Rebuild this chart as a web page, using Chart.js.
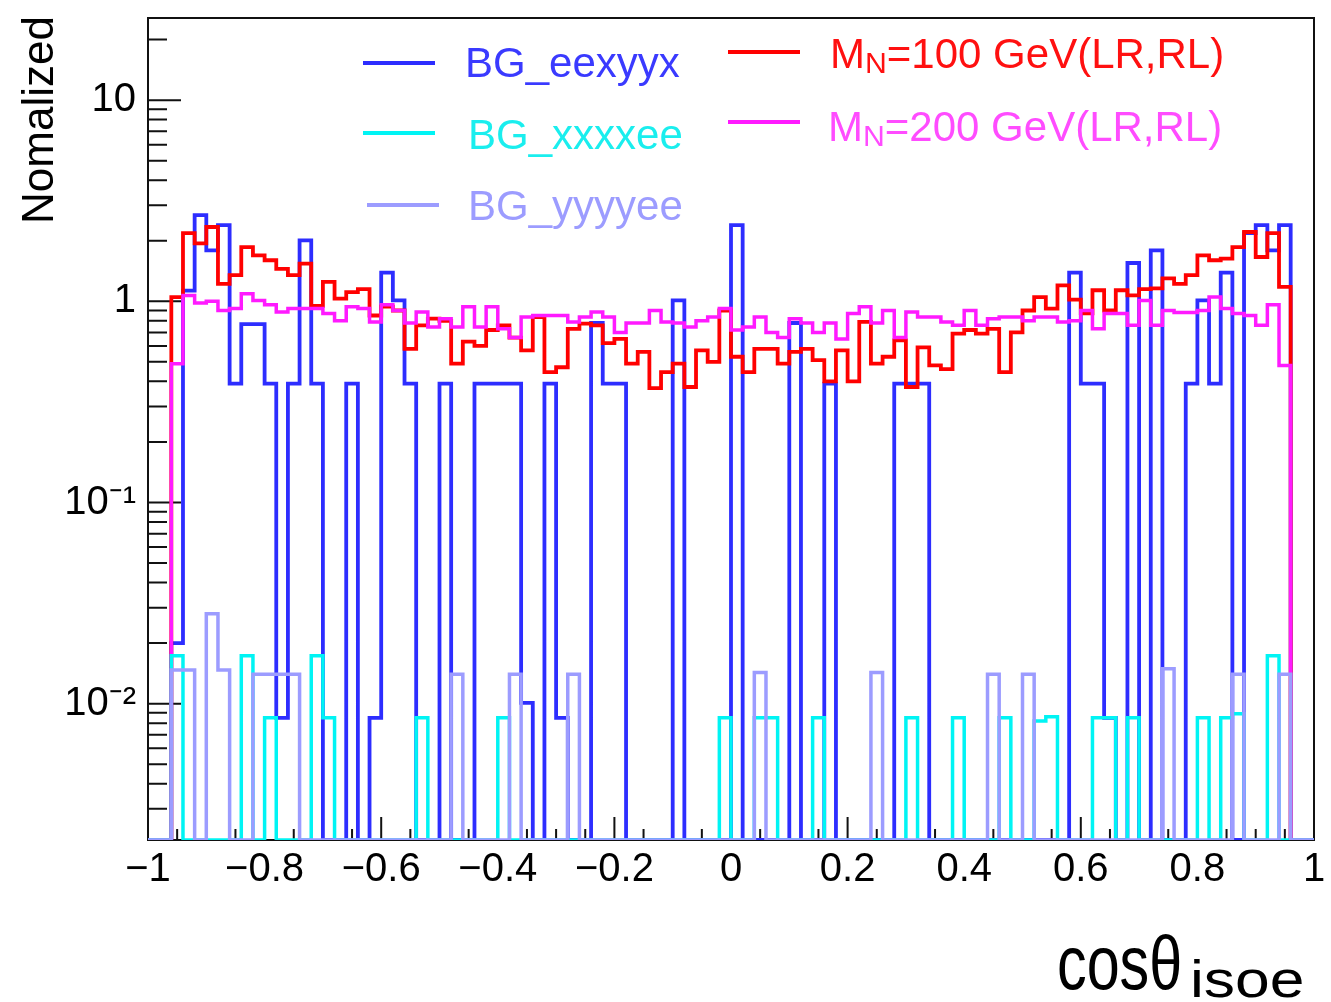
<!DOCTYPE html>
<html>
<head>
<meta charset="utf-8">
<script src="https://cdn.jsdelivr.net/npm/chart.js@4.4.0/dist/chart.umd.min.js"></script>
<style>
  body { margin: 0; background: #fff; }
  #wrap { position: relative; width: 1331px; height: 1002px; font-family: "Liberation Sans", Arial, sans-serif; }
  #c { position: absolute; left: 0; top: 0; }
  .legline { position: absolute; height: 4px; width: 72px; }
  .legtext { position: absolute; font-size: 42px; line-height: 42px; white-space: nowrap; }
  .legtext sub { font-size: 0.72em; vertical-align: -0.15em; line-height: 0; }
  #ytitle { position: absolute; left: -112px; top: 98px; width: 300px; text-align: center;
            font-size: 44px; line-height: 44px; transform: rotate(-90deg); color: #000; }
  #xt1 { position: absolute; left: 1057px; top: 925px; font-size: 76px; line-height: 76px;
         transform: scaleX(0.78); transform-origin: left top; color: #000; }
  #xt2 { position: absolute; left: 1190px; top: 953px; font-size: 52px; line-height: 52px;
         transform: scaleX(1.2); transform-origin: left top; color: #000; }
</style>
</head>
<body>
<div id="wrap">
  <canvas id="c" width="1331" height="1002"></canvas>
  <div id="legend"></div>
  <div id="ytitle">Nomalized</div>
  <div id="xt1">cosθ</div><div id="xt2">isoe</div>
</div>
<script>
// binning of cos(theta_isoe): 100 bins from -1 to 1
const binLow = -1;
const binWidth = 0.02;

// normalized bin contents (0 = empty bin)
const eexyyx = [
  0, 0, 0.020, 1.13, 2.68, 1.79, 2.39, 0.39, 0.77, 0.77,
  0.39, 0.0085, 0.39, 2.01, 0.39, 0, 0, 0.39, 0, 0.0085,
  1.39, 1.01, 0.39, 0, 0, 0.39, 0, 0, 0.39, 0.39,
  0.39, 0.39, 0.0101, 0, 0.39, 0.0085, 0, 0, 0.78, 0.39,
  0.39, 0, 0, 0, 0, 1.01, 0, 0, 0, 0,
  2.39, 0, 0, 0, 0, 0.78, 0, 0, 0.39, 0,
  0, 0, 0, 0, 0.39, 0.39, 0.39, 0, 0, 0,
  0, 0, 0, 0, 0, 0, 0, 0, 0, 1.39,
  0.39, 0.39, 0.0085, 0, 1.55, 0, 1.79, 0, 0, 0.39,
  1.01, 0.39, 1.39, 0, 2.18, 2.39, 1.79, 2.39, 0, 0
];
const xxxxee = [
  0, 0, 0.0173, 0, 0, 0, 0, 0, 0.0173, 0,
  0.0085, 0, 0, 0, 0.0173, 0.0085, 0, 0, 0, 0,
  0, 0, 0, 0.0085, 0, 0, 0, 0, 0, 0,
  0.0085, 0, 0, 0, 0, 0, 0, 0, 0, 0,
  0, 0, 0, 0, 0, 0, 0, 0, 0, 0.0085,
  0, 0, 0.0085, 0.0085, 0, 0, 0, 0.0085, 0, 0,
  0, 0, 0, 0, 0, 0.0085, 0, 0, 0, 0.0085,
  0, 0, 0, 0.0085, 0, 0, 0.0082, 0.0086, 0, 0,
  0, 0.0085, 0.0085, 0, 0.0085, 0, 0, 0, 0, 0,
  0.0085, 0, 0.0085, 0.0089, 0, 0, 0.0173, 0, 0, 0
];
const yyyyee = [
  0, 0, 0.0147, 0.0147, 0, 0.028, 0.0147, 0, 0, 0.014,
  0.014, 0.014, 0.014, 0, 0, 0, 0, 0, 0, 0,
  0, 0, 0, 0, 0, 0, 0.014, 0, 0, 0,
  0, 0.014, 0, 0, 0, 0, 0.014, 0, 0, 0,
  0, 0, 0, 0, 0, 0, 0, 0, 0, 0,
  0, 0, 0.0143, 0, 0, 0, 0, 0, 0, 0,
  0, 0, 0.0143, 0, 0, 0, 0, 0, 0, 0,
  0, 0, 0.014, 0, 0, 0.014, 0, 0, 0, 0,
  0, 0, 0, 0, 0, 0, 0, 0.0149, 0, 0,
  0, 0, 0, 0.014, 0, 0, 0, 0.014, 0, 0
];
const mn100 = [
  0, 0, 1.05, 2.18, 1.94, 2.34, 1.22, 1.35, 1.86, 1.69,
  1.60, 1.45, 1.35, 1.54, 0.95, 1.25, 1.03, 1.11, 1.15, 0.85,
  0.94, 0.90, 0.58, 0.76, 0.82, 0.80, 0.49, 0.63, 0.60, 0.72,
  0.76, 0.66, 0.57, 0.835, 0.445, 0.47, 0.73, 0.775, 0.76, 0.62,
  0.65, 0.49, 0.56, 0.37, 0.445, 0.49, 0.375, 0.57, 0.50, 0.90,
  0.53, 0.445, 0.58, 0.58, 0.49, 0.56, 0.58, 0.51, 0.40, 0.57,
  0.40, 0.79, 0.49, 0.53, 0.64, 0.375, 0.59, 0.48, 0.46, 0.69,
  0.72, 0.69, 0.73, 0.445, 0.70, 0.90, 1.05, 0.92, 1.20, 1.02,
  0.87, 1.135, 0.90, 1.135, 1.07, 1.15, 1.16, 1.30, 1.22, 1.35,
  1.69, 1.60, 1.63, 1.86, 2.21, 1.66, 2.18, 1.18, 0, 0
];
const mn200 = [
  0, 0, 0.49, 1.07, 0.98, 1.0, 0.90, 0.92, 1.09, 1.01,
  0.96, 0.885, 0.92, 0.92, 0.92, 0.87, 0.80, 0.94, 0.92, 0.79,
  0.96, 0.90, 0.78, 0.885, 0.745, 0.82, 0.745, 0.94, 0.745, 0.94,
  0.73, 0.66, 0.835, 0.85, 0.85, 0.85, 0.79, 0.835, 0.885, 0.835,
  0.70, 0.78, 0.78, 0.90, 0.79, 0.78, 0.745, 0.80, 0.835, 0.92,
  0.72, 0.745, 0.835, 0.70, 0.66, 0.82, 0.78, 0.70, 0.78, 0.65,
  0.87, 0.94, 0.78, 0.90, 0.66, 0.885, 0.835, 0.835, 0.79, 0.76,
  0.90, 0.76, 0.82, 0.835, 0.835, 0.80, 0.835, 0.835, 0.79, 0.80,
  0.90, 0.73, 0.87, 0.87, 0.76, 1.01, 0.76, 0.90, 0.88, 0.88,
  0.90, 1.05, 0.92, 0.87, 0.85, 0.76, 0.96, 0.48, 0, 0
];

const yMin = 0.0021;
const yMax = 25.6;
const yTickVals = [0.01, 0.1, 1, 10];
const yTickText = ['10\u207B\u00B2', '10\u207B\u00B9', '1', '10'];
const xTickVals = [-1, -0.8, -0.6, -0.4, -0.2, 0, 0.2, 0.4, 0.6, 0.8, 1];

// name, data, colour, legend html, draw order (lower = on top)
const series = [
  { name: 'BG_eexyyx', vals: eexyyx, color: '#2d2dff', text: '#3a3aff', html: 'BG_eexyyx', order: 5, width: 3.8 },
  { name: 'BG_xxxxee', vals: xxxxee, color: '#00f4f4', text: '#1aeeee', html: 'BG_xxxxee', order: 2, width: 3.5 },
  { name: 'BG_yyyyee', vals: yyyyee, color: '#9c9cff', text: '#9c9cff', html: 'BG_yyyyee', order: 1, width: 3.5 },
  { name: 'M_N=100 GeV(LR,RL)', vals: mn100, color: '#ff0000', text: '#ff1010', html: 'M<sub>N</sub>=100 GeV(LR,RL)', order: 4, width: 3.8 },
  { name: 'M_N=200 GeV(LR,RL)', vals: mn200, color: '#ff1aff', text: '#ff4cff', html: 'M<sub>N</sub>=200 GeV(LR,RL)', order: 3, width: 3.5 }
];

// legend layout (two columns like the ROOT TLegend)
const legendSlots = [
  { lineX: 363, lineY: 61, textX: 465, textTop: 42 },
  { lineX: 363, lineY: 131, textX: 468, textTop: 114 },
  { lineX: 367, lineY: 203, textX: 468, textTop: 185 },
  { lineX: 728, lineY: 50, textX: 830, textTop: 33 },
  { lineX: 728, lineY: 120, textX: 828, textTop: 106 }
];

function histPoints(vals){
  // lower bin edges + closing point; empty bins sit on the frame bottom like ROOT's log view
  const pts = vals.map((v,i)=>({ x: binLow + i*binWidth, y: v > 0 ? v : yMin }));
  const last = vals[vals.length-1];
  pts.push({ x: binLow + vals.length*binWidth, y: last > 0 ? last : yMin });
  return pts;
}

const frameTicks = {
  id: 'frameTicks',
  beforeDatasetsDraw(chart){
    const { ctx, chartArea: a, scales: { x, y } } = chart;
    ctx.save();
    ctx.strokeStyle = '#111';
    ctx.lineWidth = 2;
    ctx.beginPath();
    for(let i=0;i<=40;i++){
      const px = x.getPixelForValue(-1 + i*0.05);
      const len = i%4===0 ? 23 : 11;
      ctx.moveTo(px, a.bottom); ctx.lineTo(px, a.bottom - len);
    }
    for(let d=-3; d<=1; d++){
      for(let m=1; m<=9; m++){
        const v = m*Math.pow(10,d);
        if(v < yMin || v > yMax) continue;
        const py = y.getPixelForValue(v);
        const len = m===1 ? 33 : 19;
        ctx.moveTo(a.left, py); ctx.lineTo(a.left + len, py);
      }
    }
    ctx.stroke();
    ctx.strokeRect(a.left, a.top, a.right - a.left, a.bottom - a.top);
    ctx.restore();
  }
};

const ctx = document.getElementById('c').getContext('2d');
const chart = new Chart(ctx, {
  type: 'line',
  data: {
    datasets: series.map(s=>({
      label: s.name,
      data: histPoints(s.vals),
      borderColor: s.color,
      backgroundColor: s.color,
      borderWidth: s.width,
      pointRadius: 0,
      stepped: 'before',
      fill: false,
      tension: 0,
      order: s.order
    }))
  },
  options: {
    responsive: false,
    animation: false,
    layout: { padding: { left: 0, right: 17, top: 18, bottom: 0 } },
    scales: {
      x: {
        type: 'linear', min: -1, max: 1,
        afterBuildTicks: sc => { sc.ticks = xTickVals.map(v=>({ value: v })); },
        afterFit: sc => { sc.height = 162; sc.paddingLeft = 0; sc.paddingRight = 0; },
        ticks: {
          autoSkip: false, maxRotation: 0, padding: 6, color: '#000',
          font: { family: 'Liberation Sans', size: 40 },
          callback: v => v < 0 ? '\u2212' + Math.abs(v) : String(v)
        },
        grid: { display: false, drawTicks: false },
        border: { display: false }
      },
      y: {
        type: 'logarithmic', min: yMin, max: yMax,
        afterBuildTicks: sc => { sc.ticks = yTickVals.map(v=>({ value: v })); },
        afterFit: sc => { sc.width = 148; sc.paddingTop = 0; sc.paddingBottom = 0; },
        ticks: {
          padding: 12, color: '#000',
          font: { family: 'Liberation Sans', size: 40 },
          callback: v => yTickText[yTickVals.indexOf(v)] ?? ''
        },
        grid: { display: false, drawTicks: false },
        border: { display: false }
      }
    },
    plugins: { legend: { display: false }, tooltip: { enabled: false } }
  },
  plugins: [frameTicks]
});

// HTML legend with real text (subscripts need markup)
const legendDiv = document.getElementById('legend');
series.forEach((s,i)=>{
  const slot = legendSlots[i];
  const line = document.createElement('div');
  line.className = 'legline';
  line.style.left = slot.lineX + 'px';
  line.style.top = slot.lineY + 'px';
  line.style.background = s.color;
  legendDiv.appendChild(line);
  const txt = document.createElement('div');
  txt.className = 'legtext';
  txt.style.left = slot.textX + 'px';
  txt.style.top = slot.textTop + 'px';
  txt.style.color = s.text;
  txt.innerHTML = s.html;
  legendDiv.appendChild(txt);
});
</script>
</body>
</html>
